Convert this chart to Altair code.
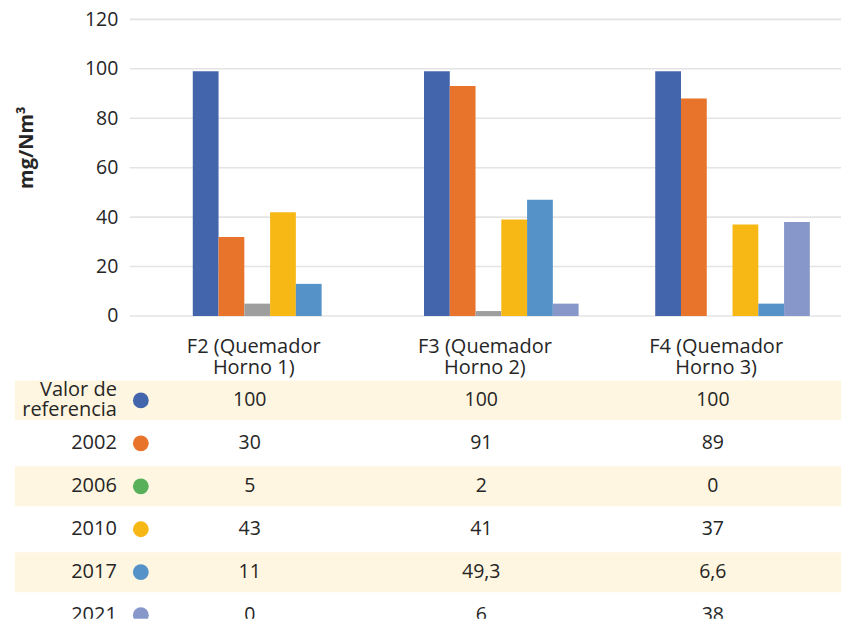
import altair as alt
import pandas as pd

categories = ["F2 (Quemador Horno 1)", "F3 (Quemador Horno 2)", "F4 (Quemador Horno 3)"]
series = ["Valor de referencia", "2002", "2006", "2010", "2017", "2021"]
row_labels = ["Valor de\nreferencia", "2002", "2006", "2010", "2017", "2021"]
y_ticks = [0, 20, 40, 60, 80, 100, 120]

# bar heights (as drawn)
v_ref = [99, 99, 99]
v_2002 = [32, 93, 88]
v_2006 = [5, 2, 0]
v_2010 = [42, 39, 37]
v_2017 = [13, 47, 5]
v_2021 = [0, 5, 38]

# values printed in the data table
t_ref = ["100", "100", "100"]
t_2002 = ["30", "91", "89"]
t_2006 = ["5", "2", "0"]
t_2010 = ["43", "41", "37"]
t_2017 = ["11", "49,3", "6,6"]
t_2021 = ["0", "6", "38"]

bar_colors = ["#4365AB", "#E8732B", "#9E9E9E", "#F7B816", "#5592C8", "#8797CA"]
dot_colors = ["#4365AB", "#E8732B", "#58B05B", "#F7B816", "#5592C8", "#8797CA"]

FONT = "Open Sans"
TXT = "#262626"

vals = [v_ref, v_2002, v_2006, v_2010, v_2017, v_2021]
tabs = [t_ref, t_2002, t_2006, t_2010, t_2017, t_2021]

bars_rows = []
tab_rows = []
for si, s in enumerate(series):
    for ci, c in enumerate(categories):
        bars_rows.append({"cat": c, "serie": s, "valor": vals[si][ci]})
        tab_rows.append({"cat": c, "serie": s, "texto": tabs[si][ci]})
bars_df = pd.DataFrame(bars_rows)
tab_df = pd.DataFrame(tab_rows)
legend_df = pd.DataFrame({"serie": series, "label": row_labels,
                          "band": [i % 2 == 0 for i in range(len(series))]})
grid_df = pd.DataFrame({"t": y_ticks})

TW = 827   # both panels span x = 15 .. 842; the value axis sits at x = 130
YOFF = 115

y_scale = alt.Scale(domain=[0, 120], nice=False)
y_axis = alt.Axis(title="mg/Nm³", values=y_ticks, offset=-YOFF, grid=False,
                  domain=False, ticks=False, tickSize=0, labelFontSize=19.5,
                  labelFont=FONT, labelColor=TXT, labelPadding=12,
                  titleFont=FONT, titleFontSize=20, titleFontWeight="bold",
                  titleColor=TXT, titleX=-103, titleY=128, titleBaseline="middle")

grid = alt.Chart(grid_df).mark_rule(color="#E4E4E4", strokeWidth=1.6).encode(
    y=alt.Y("t:Q", scale=y_scale, axis=y_axis),
    x=alt.value(YOFF), x2=alt.value(TW))

bars = alt.Chart(bars_df).mark_bar().encode(
    x=alt.X("cat:N", sort=categories,
            scale=alt.Scale(domain=categories, paddingInner=0, paddingOuter=0,
                            range=[YOFF + 8.25, YOFF + 702.75]),
            axis=alt.Axis(title=None, domain=False, ticks=False, tickSize=0,
                          labelAngle=0, labelFontSize=20, labelFont=FONT,
                          labelColor=TXT, labelPadding=21, labelLineHeight=21,
                          labelExpr="[slice(datum.label, 0, 12), slice(datum.label, 13)]")),
    xOffset=alt.XOffset("serie:N", sort=series,
                        scale=alt.Scale(domain=series, paddingInner=0, paddingOuter=0,
                                        range=[54.75, 209.55])),
    y=alt.Y("valor:Q", scale=y_scale, axis=y_axis),
    color=alt.Color("serie:N", scale=alt.Scale(domain=series, range=bar_colors), legend=None),
)

top = alt.layer(grid, bars).properties(width=TW, height=297)

y_rows = alt.Y("serie:N", sort=series, axis=None,
               scale=alt.Scale(domain=series, paddingInner=0.07, paddingOuter=0.035, range=[0, 258]))

bands = alt.Chart(legend_df).transform_filter("datum.band").mark_rect(color="#FEF6E0", clip=True).encode(
    x=alt.value(0), x2=alt.value(TW), y=y_rows)

labels_single = alt.Chart(legend_df).transform_filter(
    "indexof(datum.label, '\\n') < 0").mark_text(
    align="right", baseline="middle", font=FONT, fontSize=20, color=TXT, clip=True).encode(
    x=alt.value(102), y=y_rows, text="label:N")

labels_multi = alt.Chart(legend_df).transform_filter(
    "indexof(datum.label, '\\n') >= 0").mark_text(
    align="right", baseline="middle", font=FONT, fontSize=20, color=TXT,
    lineBreak="\n", lineHeight=20, dy=-10, clip=True).encode(
    x=alt.value(102), y=y_rows, text="label:N")

dots = alt.Chart(legend_df).mark_circle(size=250, opacity=1, clip=True).encode(
    x=alt.value(126), y=y_rows,
    color=alt.Color("serie:N", scale=alt.Scale(domain=series, range=dot_colors), legend=None))

cells = alt.Chart(tab_df).mark_text(
    align="center", baseline="middle", font=FONT, fontSize=19.5, color=TXT, clip=True).encode(
    x=alt.X("cat:N", sort=categories, axis=None, bandPosition=0.5,
            scale=alt.Scale(domain=categories, paddingInner=0, paddingOuter=0, range=[119.1, 814.6])),
    y=y_rows, text="texto:N")

table = alt.layer(bands, labels_single, labels_multi, dots, cells).properties(
    width=TW, height=240).resolve_scale(color="independent")

chart = alt.vconcat(top, table, spacing=1).resolve_scale(
    x="independent", y="independent", color="independent", xOffset="independent"
).properties(padding={"left": 7, "top": 1, "right": 0, "bottom": 0}).configure_view(stroke=None)

chart.save("out.html", embed_options={"renderer": "svg", "actions": False})
